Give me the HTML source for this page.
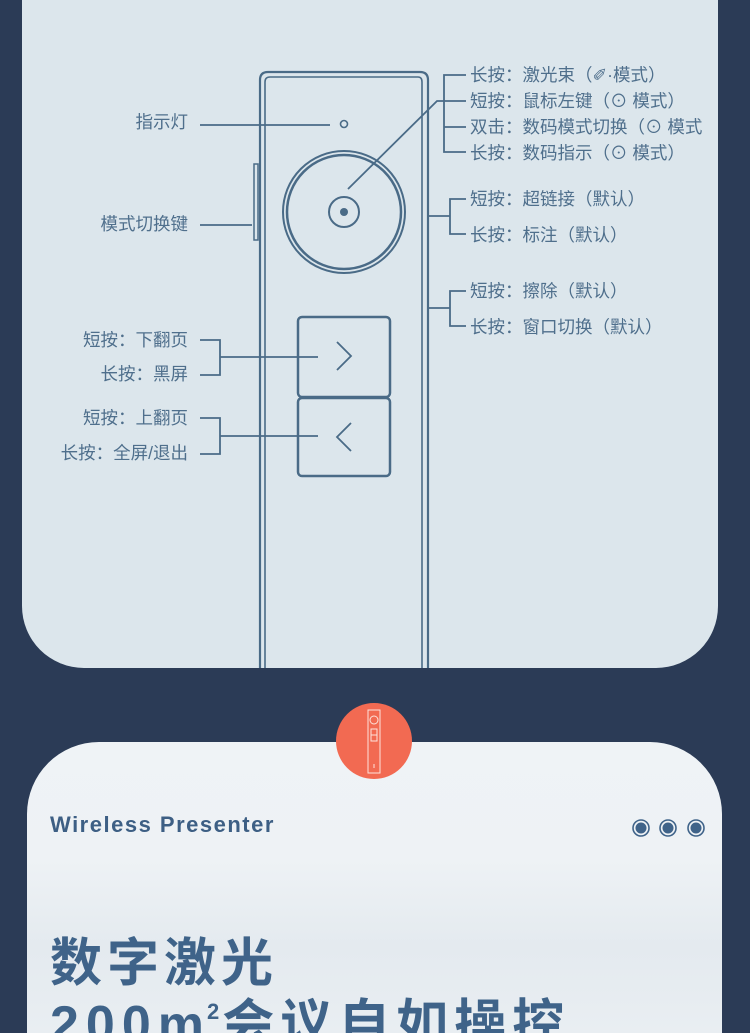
<!DOCTYPE html>
<html><head><meta charset="utf-8"><style>
html,body{margin:0;padding:0;width:750px;height:1033px;overflow:hidden}
body{background:#2b3b56;position:relative;font-family:"Liberation Sans","Noto Sans CJK SC",sans-serif}
.card1{position:absolute;left:22px;top:-40px;width:696px;height:708px;background:#dce6ec;border-radius:0 0 62px 62px}
.card2{position:absolute;left:27px;top:742px;width:695px;height:291px;background:linear-gradient(180deg,#eff3f6 0%,#eef2f5 40%,#e4eaef 70%,#e9eef2 100%);border-radius:72px 72px 0 0}
svg{position:absolute;left:0;top:0}
.t{font-family:"Liberation Sans","Noto Sans CJK SC",sans-serif;fill:#4f6f8c;font-size:17.5px}
.wp{position:absolute;left:50px;top:812px;font-size:22px;font-weight:bold;color:#3d5f84;letter-spacing:1.5px}
.big{position:absolute;left:50px;font-size:52px;font-weight:bold;color:#3f6389;letter-spacing:5px;font-family:"Liberation Sans","Noto Sans CJK SC",sans-serif;line-height:1;white-space:nowrap}
</style></head><body>
<div class="card1"></div>
<div class="card2"></div>
<svg width="750" height="1033" viewBox="0 0 750 1033">
<g fill="none" stroke="#4a6b87" stroke-width="2.2">
<path d="M260 668 V80 Q260 72 268 72 H420 Q428 72 428 80 V668"/>
<path d="M265 668 V82 Q265 77 270 77 H418 Q422 77 422 82 V668" stroke-width="1.6"/>
<rect x="254" y="164" width="4" height="76" stroke-width="1.5"/>
<circle cx="344" cy="124" r="3.5" stroke-width="1.6"/>
<circle cx="344" cy="212" r="61" stroke-width="2"/>
<circle cx="344" cy="212" r="57" stroke-width="2.5"/>
<circle cx="344" cy="212" r="15" stroke-width="2"/>
<rect x="298" y="317" width="92" height="80" rx="4" stroke-width="2.5"/>
<rect x="298" y="398" width="92" height="78" rx="4" stroke-width="2.5"/>
<path d="M337 342 L351 356 L337 370" stroke-width="1.8"/>
<path d="M351 423 L337 437 L351 451" stroke-width="1.8"/>
<g stroke-width="1.8">
<path d="M200 125 H330"/>
<path d="M200 225 H252"/>
<path d="M200 340 H220 V375 H200 M220 357 H318"/>
<path d="M200 418 H220 V454 H200 M220 436 H318"/>
<path d="M348 189 L437 101 H444"/>
<path d="M466 75 H444 V152 H466 M444 101 H466 M444 127 H466"/>
<path d="M428 216 H450 M466 199 H450 V234 H466"/>
<path d="M428 308 H450 M466 291 H450 V326 H466"/>
</g>
</g>
<circle cx="344" cy="212" r="4" fill="#4a6b87"/>
<g class="t">
<text x="188" y="128" text-anchor="end">指示灯</text>
<text x="188" y="230" text-anchor="end">模式切换键</text>
<text x="188" y="346" text-anchor="end">短按：下翻页</text>
<text x="188" y="380" text-anchor="end">长按：黑屏</text>
<text x="188" y="424" text-anchor="end">短按：上翻页</text>
<text x="188" y="459" text-anchor="end">长按：全屏/退出</text>
<text x="470" y="81">长按：激光束（✐·模式）</text>
<text x="470" y="107">短按：鼠标左键（⊙ 模式）</text>
<text x="470" y="133">双击：数码模式切换（⊙ 模式</text>
<text x="470" y="159">长按：数码指示（⊙ 模式）</text>
<text x="470" y="205">短按：超链接（默认）</text>
<text x="470" y="241">长按：标注（默认）</text>
<text x="470" y="297">短按：擦除（默认）</text>
<text x="470" y="333">长按：窗口切换（默认）</text>
</g>
<circle cx="374" cy="741" r="38" fill="#f26a52"/>
<g fill="none" stroke="#fde3dc" stroke-width="1">
<rect x="368" y="710" width="12" height="63"/>
<circle cx="374" cy="720" r="4"/>
<rect x="371" y="729" width="6" height="12"/>
<path d="M371 735 H377 M374 764 V768"/>
</g>
<g fill="#3f6389">
<circle cx="641" cy="828" r="5.5"/><circle cx="668" cy="828" r="5.5"/><circle cx="696" cy="828" r="5.5"/>
</g>
<g fill="none" stroke="#3f6389" stroke-width="1.6">
<circle cx="641" cy="828" r="8"/><circle cx="668" cy="828" r="8"/><circle cx="696" cy="828" r="8"/>
</g>
</svg>
<div class="wp">Wireless Presenter</div>
<div class="big" style="top:938px">数字激光</div>
<div class="big" style="top:999px;letter-spacing:3px">2<span style="margin-left:4px">0</span><span style="margin-left:4px">0</span><span style="margin-left:4px">m</span><sup style="font-size:22px;vertical-align:top;position:relative;top:2px">2</sup><span style="letter-spacing:6px">会议自如操控</span></div>
</body></html>
